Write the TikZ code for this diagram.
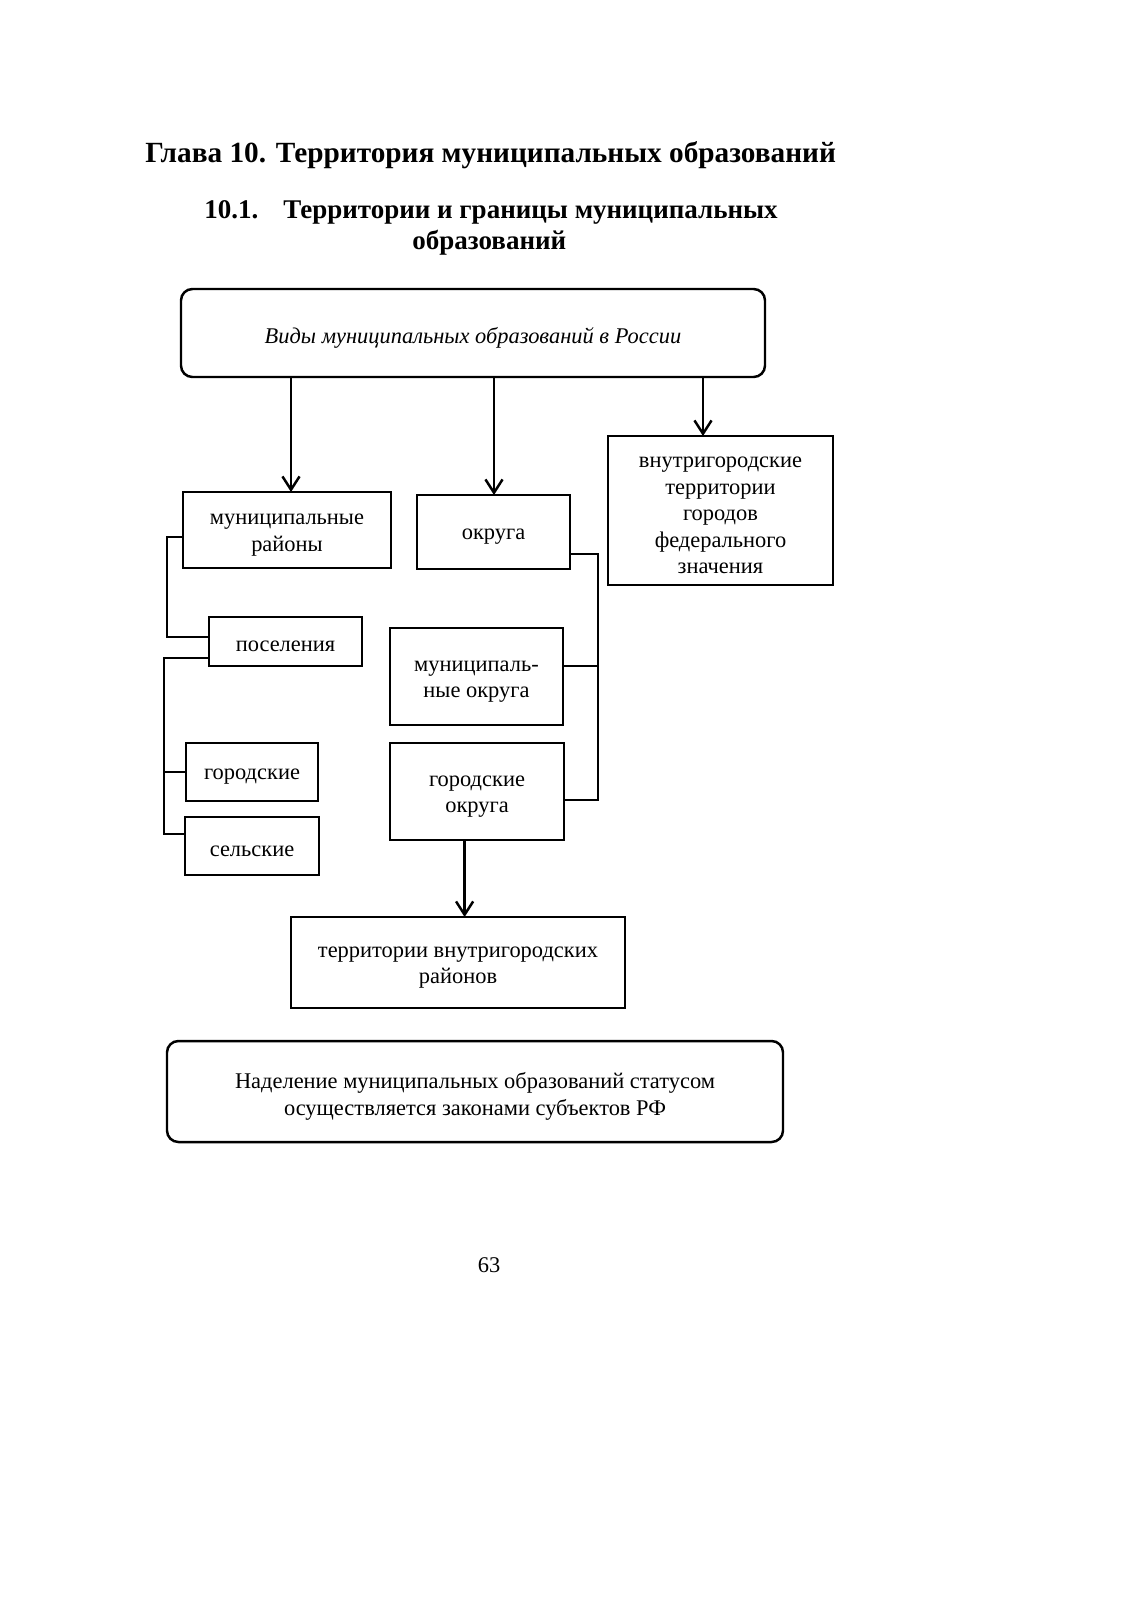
\documentclass[tikz,border=0pt]{standalone}
\usepackage{fontspec}
\setmainfont{Liberation Serif}
\usetikzlibrary{arrows.meta}
\newcommand\mkbox[7][]{\node[box,#1, minimum width={(#4-#2)*0.5259pt}, minimum height={(#5-#3)*0.5259pt}] (#6) at ({(#2+#4)/2},{(#3+#5)/2}) {};
  \node[boxtext] (#6-t) at ([yshift=-2.6pt]#6.center) {#7};}
\begin{document}
\begin{tikzpicture}[x=0.5259pt,y=-0.5259pt,
  box/.style={draw, line width=1.3pt, inner sep=0pt, outer sep=0pt},
  boxtext/.style={inner sep=0pt, align=center, font=\fontsize{11.8}{13.9}\selectfont},
  rbox/.style={rounded corners=6pt},
  conn/.style={line width=1.3pt},
  arr/.style={line width=1.3pt, -{Straight Barb[length=7pt,width=9pt,line width=1.3pt]}},
  head/.style={anchor=base west, font=\fontsize{15.4}{18}\selectfont\bfseries, inner sep=0pt},
  subhead/.style={anchor=base west, font=\fontsize{14.2}{17}\selectfont\bfseries, inner sep=0pt}]
\useasboundingbox (0,0) rectangle (1132,1600);

\node[head] (t1) at (145,162) {Глава 10. Территория муниципальных образований};
\node[subhead] (t2a) at (204,218) {10.1.};
\node[subhead] (t2b) at (283,218) {Территории и границы муниципальных};
\node[subhead] (t2c) at (412,249) {образований};

\mkbox[rbox]{181}{289}{765}{377}{top}{\itshape Виды муниципальных образований в России}
\mkbox{183}{492}{391}{568}{mr}{муниципальные\\районы}
\mkbox{417}{495}{570}{569}{okr}{округа}
\mkbox{608}{436}{833}{585}{vnt}{внутригородские\\территории\\городов\\федерального\\значения}
\mkbox{209}{617}{362}{666}{pos}{поселения}
\mkbox{390}{628}{563}{725}{mokr}{муниципаль-\\ные округа}
\mkbox{186}{743}{318}{801}{gor}{городские}
\mkbox{185}{817}{319}{875}{sel}{сельские}
\mkbox{390}{743}{564}{840}{gokr}{городские\\округа}
\mkbox{291}{917}{625}{1008}{terr}{территории внутригородских\\районов}
\mkbox[rbox]{167}{1041}{783}{1142}{note}{Наделение муниципальных образований статусом\\осуществляется законами субъектов РФ}

\node[anchor=base, font=\fontsize{11.8}{14}\selectfont, inner sep=0pt] (pg) at (489,1272) {63};

% arrows
\coordinate (A1) at (291,0);
\coordinate (A2) at (494,0);
\coordinate (A3) at (703,0);
\coordinate (A4) at (464.6,0);
\draw[arr] (A1 |- top.south) -- (A1 |- mr.north);
\draw[arr] (A2 |- top.south) -- (A2 |- okr.north);
\draw[arr] (A3 |- top.south) -- (A3 |- vnt.north);
\draw[arr] (A4 |- gokr.south) -- (A4 |- terr.north);

% left brackets
\coordinate (L1) at (167,537);
\coordinate (L2) at (167,637);
\draw[conn] (L1 -| mr.west) -- (L1) -- (L2) -- (L2 -| pos.west);
\coordinate (L3) at (164,658);
\coordinate (L4) at (164,834);
\coordinate (L5) at (164,772);
\draw[conn] (L3 -| pos.west) -- (L3) -- (L4) -- (L4 -| sel.west);
\draw[conn] (L5) -- (L5 -| gor.west);

% right bracket
\coordinate (R1) at (598,554);
\coordinate (R2) at (598,800);
\coordinate (R3) at (598,666);
\draw[conn] (R1 -| okr.east) -- (R1) -- (R2) -- (R2 -| gokr.east);
\draw[conn] (R3 -| mokr.east) -- (R3);
\end{tikzpicture}
\end{document}
